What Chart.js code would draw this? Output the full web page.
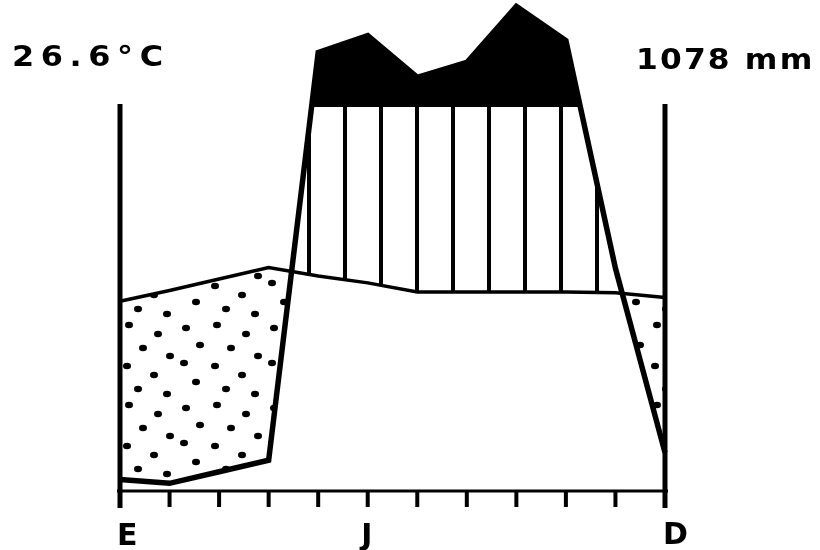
<!DOCTYPE html>
<html>
<head>
<meta charset="utf-8">
<script src="https://cdn.jsdelivr.net/npm/chart.js@4"></script>
<style>
  html, body { margin: 0; padding: 0; background: #fff; }
  canvas { display: block; }
</style>
</head>
<body>
<canvas id="climate-chart" width="820" height="550"></canvas>
<script>
"use strict";

// months, only E / J / D get a label under the axis
const months = ["E", "F", "M", "A", "M", "J", "J", "A", "S", "O", "N", "D"];
const monthLabels = ["E", "", "", "", "", "J", "", "", "", "", "", "D"];

// monthly mean temperature (°C) and rainfall (mm)
const tempC = [24.7, 26.1, 27.6, 29.1, 28.0, 27.1, 25.9, 25.9, 25.9, 25.9, 25.8, 25.2];
const precipMm = [3, 2, 5, 8, 242, 286, 177, 216, 362, 273, 58, 10];

const meanTempText = "26.6°C";
const totalPrecipText = "1078 mm";

// Walter-Lieth scale: 10 °C = 20 mm, above 100 mm the scale is cut to 1/10
function tempToScale(t) {
  return t * 2;
}
function precipToScale(p) {
  return p <= 100 ? p : 100 + (p - 100) / 10;
}

const tempPlot = tempC.map(tempToScale);
const precipPlot = precipMm.map(precipToScale);

// vertical hatching for the humid months
function makeStripes() {
  const c = document.createElement("canvas");
  c.width = 36;
  c.height = 8;
  const g = c.getContext("2d");
  g.fillStyle = "#000";
  g.fillRect(19, 0, 4, 8);
  return g.createPattern(c, "repeat");
}

// scattered dots for the dry months
function makeDots() {
  const c = document.createElement("canvas");
  c.width = 88;
  c.height = 80;
  const g = c.getContext("2d");
  g.fillStyle = "#000";
  const spots = [
    [10, 8], [41, 5], [70, 14], [24, 25], [55, 28], [82, 36],
    [8, 43], [39, 46], [66, 55], [20, 62], [50, 69], [79, 74],
  ];
  spots.forEach(function (s) {
    g.beginPath();
    g.ellipse(s[0], s[1], 4, 3.2, 0, 0, Math.PI * 2);
    g.fill();
  });
  return g.createPattern(c, "repeat");
}

// stretched text, the original lettering is wide
function wideText(ctx, text, x, y, stretch) {
  ctx.save();
  ctx.translate(x, y);
  ctx.scale(stretch, 1);
  ctx.fillText(text, 0, 0);
  ctx.restore();
}

// axis frame, month ticks and the texts
const framePlugin = {
  id: "climateFrame",
  afterDraw(chart) {
    const ctx = chart.ctx;
    const xs = chart.scales.x;
    const ys = chart.scales.y;
    const y0 = ys.getPixelForValue(0);
    const y100 = ys.getPixelForValue(100);
    const xl = xs.getPixelForValue(0);
    const xr = xs.getPixelForValue(months.length - 1);

    ctx.save();
    ctx.strokeStyle = "#000";
    ctx.lineCap = "butt";

    // base line
    ctx.lineWidth = 3;
    ctx.beginPath();
    ctx.moveTo(xl - 3, y0);
    ctx.lineTo(xr + 3, y0);
    ctx.stroke();

    // month ticks
    ctx.lineWidth = 4;
    for (let i = 1; i < months.length - 1; i++) {
      const x = xs.getPixelForValue(i);
      ctx.beginPath();
      ctx.moveTo(x, y0);
      ctx.lineTo(x, y0 + 16);
      ctx.stroke();
    }

    // the two side axes
    ctx.lineWidth = 5;
    [xl, xr].forEach(function (x) {
      ctx.beginPath();
      ctx.moveTo(x, y100 - 3);
      ctx.lineTo(x, y0 + 17);
      ctx.stroke();
    });

    // month letters
    ctx.fillStyle = "#000";
    ctx.font = 'bold 30px "DejaVu Sans"';
    ctx.textBaseline = "alphabetic";
    monthLabels.forEach(function (lab, i) {
      if (!lab) return;
      const x = xs.getPixelForValue(i);
      if (i === 0) {
        ctx.textAlign = "left";
        ctx.fillText(lab, x - 3, 545);
      } else if (i === months.length - 1) {
        ctx.textAlign = "left";
        ctx.fillText(lab, x - 2, 544);
      } else {
        ctx.textAlign = "center";
        ctx.fillText(lab, x - 1, 545);
      }
    });

    // mean temperature and annual rainfall
    ctx.textAlign = "left";
    ctx.font = 'bold 29px "DejaVu Sans"';
    ctx.letterSpacing = "6px";
    wideText(ctx, meanTempText, 12, 66, 1.1);
    ctx.letterSpacing = "2px";
    wideText(ctx, totalPrecipText, 636, 69, 1.08);
    ctx.restore();
  },
};

const ctx = document.getElementById("climate-chart");

new Chart(ctx, {
  type: "line",
  data: {
    labels: months,
    datasets: [
      {
        // rainfall line, humid / arid fill against the temperature line
        label: "Precipitación",
        data: precipPlot,
        borderColor: "#000",
        borderWidth: 5.5,
        pointRadius: 0,
        tension: 0,
        fill: { target: 1, above: makeStripes(), below: makeDots() },
      },
      {
        label: "Temperatura",
        data: tempPlot,
        borderColor: "#000",
        borderWidth: 3.5,
        pointRadius: 0,
        tension: 0,
        fill: false,
      },
      {
        // black part above 100 mm
        label: "Exceso",
        data: precipPlot,
        borderColor: "rgba(0,0,0,0)",
        borderWidth: 0,
        pointRadius: 0,
        tension: 0,
        fill: { target: { value: 100 }, above: "#000", below: "#fff" },
      },
    ],
  },
  options: {
    responsive: false,
    animation: false,
    devicePixelRatio: 1,
    layout: {
      padding: { left: 120, right: 155, top: 0, bottom: 59 },
    },
    plugins: {
      legend: { display: false },
      tooltip: { enabled: false },
    },
    scales: {
      x: { display: false },
      // top chosen so that 100 mm falls on a whole pixel row
      y: { display: false, min: 0, max: 49100 / 384 },
    },
  },
  plugins: [framePlugin],
});
</script>
</body>
</html>
